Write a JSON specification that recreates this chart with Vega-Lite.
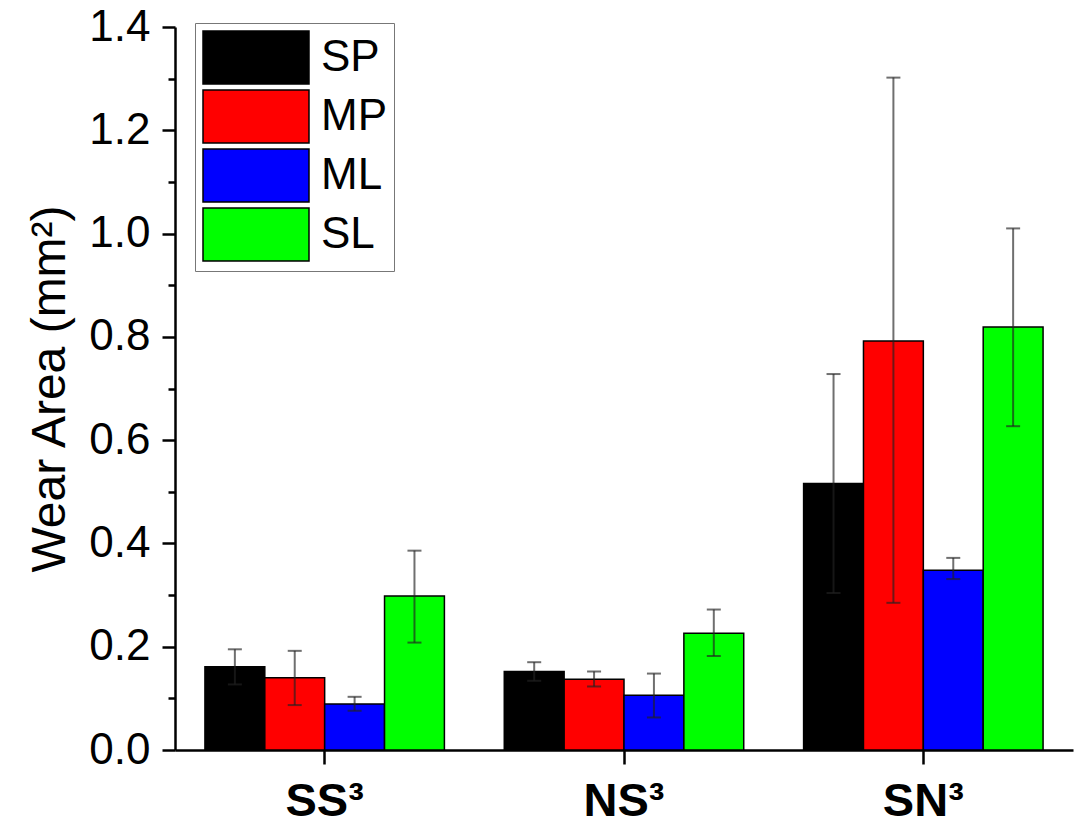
{
  "$schema": "https://vega.github.io/schema/vega-lite/v6.json",
  "width": 898,
  "height": 723,
  "autosize": {"type": "none"},
  "padding": {"left": 175, "top": 27, "right": 6, "bottom": 74},
  "background": "white",
  "config": {
    "font": "Liberation Sans",
    "view": {"stroke": null},
    "axis": {"labelColor": "black", "titleColor": "black", "domainColor": "black", "tickColor": "black", "grid": false}
  },
  "data": {
    "values": [
      {"group": "SS³", "series": "SP", "value": 0.161, "lo": 0.127, "hi": 0.195},
      {"group": "SS³", "series": "MP", "value": 0.140, "lo": 0.087, "hi": 0.192},
      {"group": "SS³", "series": "ML", "value": 0.089, "lo": 0.076, "hi": 0.103},
      {"group": "SS³", "series": "SL", "value": 0.298, "lo": 0.208, "hi": 0.386},
      {"group": "NS³", "series": "SP", "value": 0.152, "lo": 0.134, "hi": 0.170},
      {"group": "NS³", "series": "MP", "value": 0.137, "lo": 0.123, "hi": 0.152},
      {"group": "NS³", "series": "ML", "value": 0.106, "lo": 0.063, "hi": 0.148},
      {"group": "NS³", "series": "SL", "value": 0.226, "lo": 0.182, "hi": 0.272},
      {"group": "SN³", "series": "SP", "value": 0.516, "lo": 0.304, "hi": 0.728},
      {"group": "SN³", "series": "MP", "value": 0.792, "lo": 0.285, "hi": 1.302},
      {"group": "SN³", "series": "ML", "value": 0.348, "lo": 0.331, "hi": 0.372},
      {"group": "SN³", "series": "SL", "value": 0.819, "lo": 0.627, "hi": 1.010}
    ]
  },
  "encoding": {
    "x": {
      "field": "group",
      "type": "nominal",
      "sort": ["SS³", "NS³", "SN³"],
      "scale": {"paddingInner": 0.2, "paddingOuter": 0.1},
      "axis": {
        "title": null,
        "labelAngle": 0,
        "labelFontSize": 47,
        "labelFontWeight": "bold",
        "labelPadding": 14,
        "tickSize": 14,
        "tickWidth": 2.5,
        "domainWidth": 2.5
      }
    },
    "xOffset": {
      "field": "series",
      "type": "nominal",
      "sort": ["SP", "MP", "ML", "SL"],
      "scale": {"paddingInner": 0, "paddingOuter": 0}
    }
  },
  "layer": [
    {
      "mark": {"type": "bar", "stroke": "black", "strokeWidth": 1.5, "opacity": 1},
      "encoding": {
        "y": {
          "field": "value",
          "type": "quantitative",
          "scale": {"domain": [0, 1.4], "nice": false, "zero": true},
          "axis": {
            "orient": "left",
            "title": "Wear Area (mm²)",
            "titleFontSize": 48,
            "titleFontWeight": "normal",
            "titlePadding": 14,
            "values": [0, 0.2, 0.4, 0.6, 0.8, 1.0, 1.2, 1.4],
            "format": ".1f",
            "labelFontSize": 44,
            "labelPadding": 12,
            "tickSize": 13,
            "tickWidth": 2.5,
            "domainWidth": 2.5
          }
        },
        "color": {
          "field": "series",
          "type": "nominal",
          "sort": ["SP", "MP", "ML", "SL"],
          "scale": {"domain": ["SP", "MP", "ML", "SL"], "range": ["#000000", "#ff0000", "#0000ff", "#00ff00"]},
          "legend": {
            "title": null,
            "orient": "none",
            "legendX": 20,
            "legendY": -4,
            "padding": 7,
            "strokeColor": "#777777",
            "fillColor": "white",
            "symbolType": "M-1,-1H3V1H-1Z",
            "symbolSize": 2809,
            "symbolStrokeColor": "black",
            "symbolStrokeWidth": 1.5,
            "symbolOpacity": 1,
            "labelFontSize": 44,
            "labelColor": "black",
            "labelOffset": 64,
            "rowPadding": 0
          }
        }
      }
    },
    {
      "mark": {"type": "rule", "color": "#222222", "strokeWidth": 2, "opacity": 0.65},
      "encoding": {
        "y": {
          "field": "lo",
          "type": "quantitative",
          "axis": {
            "orient": "left",
            "title": null,
            "values": [0.1, 0.3, 0.5, 0.7, 0.9, 1.1, 1.3],
            "labels": false,
            "domain": false,
            "tickSize": 7,
            "tickWidth": 2.5
          }
        },
        "y2": {"field": "hi"}
      }
    },
    {
      "mark": {"type": "tick", "color": "#222222", "thickness": 2, "size": 14, "opacity": 0.65},
      "encoding": {"y": {"field": "hi", "type": "quantitative", "axis": null}}
    },
    {
      "mark": {"type": "tick", "color": "#222222", "thickness": 2, "size": 14, "opacity": 0.65},
      "encoding": {"y": {"field": "lo", "type": "quantitative", "axis": null}}
    }
  ],
  "resolve": {"axis": {"y": "independent"}}
}
